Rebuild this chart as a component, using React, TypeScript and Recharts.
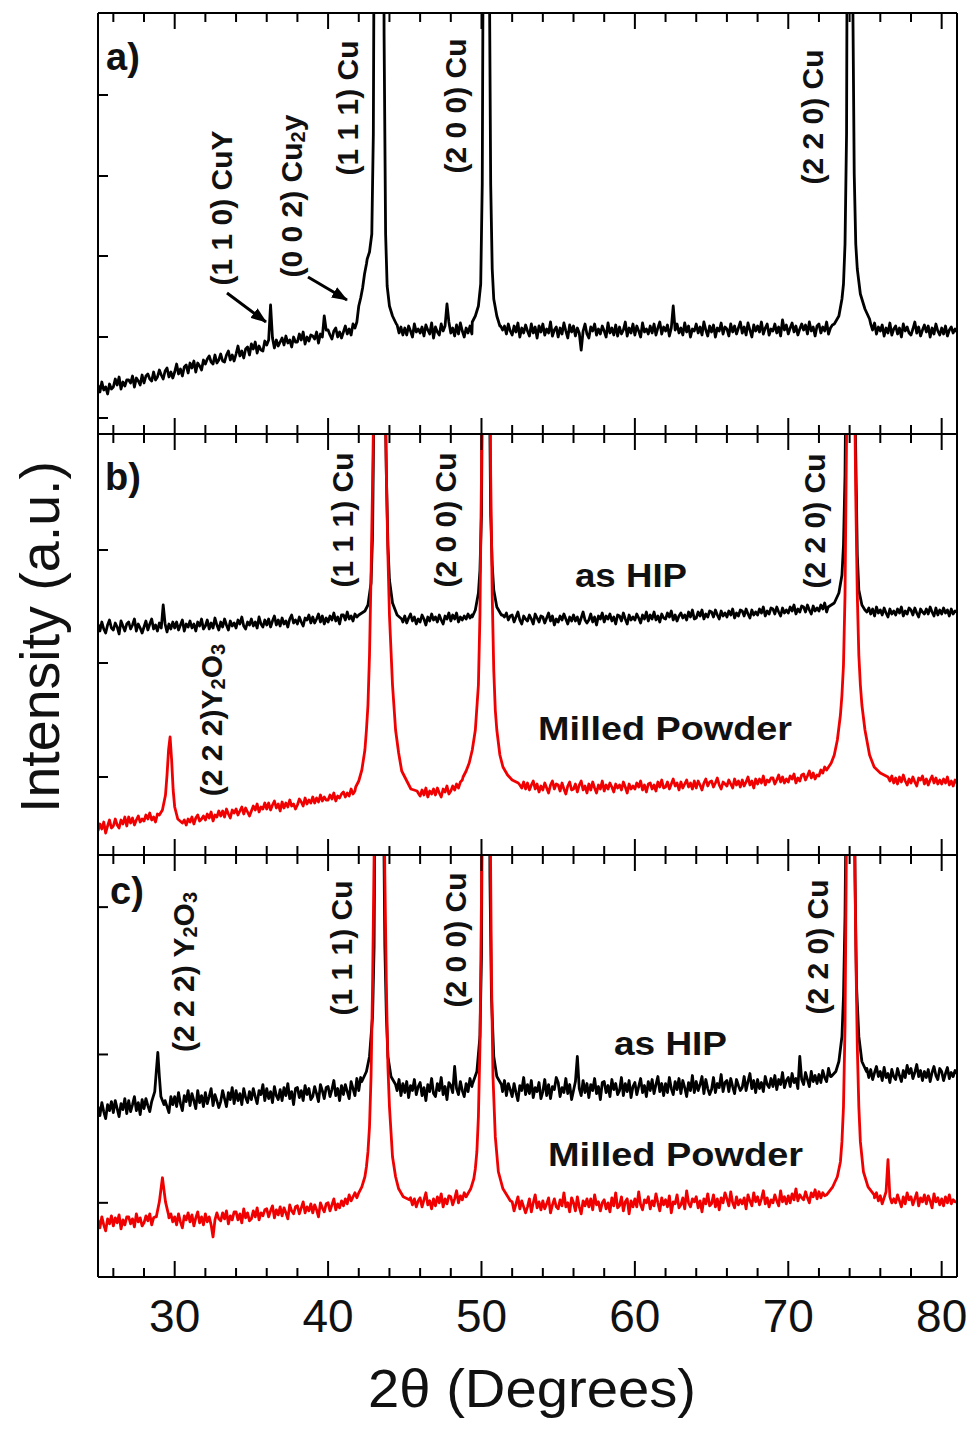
import React from 'react';
import { LineChart, Line, XAxis, YAxis } from 'recharts';

type Row = number[]; // [startDegree, 8 intensities at startDegree + k * 0.125]
type Pt = [number, number];

const FONT = 'Arial, "Liberation Sans", Helvetica, sans-serif';
const RED = '#f00000';

// ---------- axes ----------
const X_DOMAIN: [number, number] = [25, 81];
const xTicks = [26, 28, 30, 32, 34, 36, 38, 40, 42, 44, 46, 48, 50, 52, 54, 56, 58, 60, 62, 64, 66, 68, 70, 72, 74, 76, 78, 80];
const xTickLabels = [30, 40, 50, 60, 70, 80];
const Y_DOMAIN: [number, number] = [0, 421];
const yTicksA = [16, 97, 178, 258, 339];
const yTicksB = [78, 192, 305];
const yTicksC = [74, 222, 369];

// ---------- panel a) sample ----------
const sampleA: Row[] = [
  [25, 49, 42, 52, 44, 47, 40, 50, 45], [26, 47, 55, 49, 57, 45, 52, 48, 54],
  [27, 54, 51, 58, 47, 56, 53, 49, 59], [28, 51, 58, 60, 55, 53, 62, 54, 57],
  [29, 64, 59, 55, 63, 66, 57, 62, 56], [30, 62, 70, 60, 65, 58, 67, 69, 61],
  [31, 71, 66, 73, 62, 71, 68, 64, 74], [32, 70, 75, 78, 72, 70, 79, 71, 74],
  [33, 80, 73, 72, 79, 83, 74, 79, 73], [34, 80, 88, 78, 83, 76, 85, 87, 79],
  [35, 90, 85, 92, 81, 88, 84, 83, 93], [36, 89, 94, 129, 96, 86, 94, 88, 92],
  [37, 96, 89, 98, 91, 94, 87, 97, 92], [38, 92, 100, 94, 102, 90, 97, 93, 99],
  [39, 98, 95, 102, 91, 100, 97, 118, 104], [40, 104, 99, 95, 103, 106, 97, 102, 96],
  [41, 102, 108, 100, 105, 99, 110, 106, 112], [42, 128, 136, 146, 160, 170, 175, 180, 185],
  [43, 300, 900, 2000, 2000, 1500, 900, 400, 200], [44, 125, 122, 118, 114, 109, 101, 107, 99],
  [45, 106, 99, 108, 103, 97, 110, 102, 105], [46, 101, 107, 98, 109, 104, 100, 111, 96],
  [47, 107, 102, 99, 110, 103, 108, 130, 112], [48, 101, 106, 98, 109, 100, 111, 103, 97],
  [49, 106, 101, 108, 100, 105, 109, 112, 118], [50, 200, 2500, 2500, 1200, 400, 200, 140, 125],
  [51, 116, 112, 108, 104, 108, 100, 110, 103], [52, 99, 108, 102, 111, 97, 106, 101, 109],
  [53, 103, 98, 110, 101, 107, 96, 108, 102], [54, 110, 99, 105, 101, 112, 98, 104, 107],
  [55, 97, 106, 100, 111, 103, 96, 109, 102], [56, 108, 98, 106, 101, 84, 103, 110, 100],
  [57, 96, 107, 103, 110, 99, 105, 100, 108], [58, 103, 97, 111, 101, 106, 99, 109, 98],
  [59, 107, 100, 104, 112, 98, 106, 101, 110], [60, 99, 108, 103, 97, 111, 102, 105, 100],
  [61, 108, 101, 110, 99, 106, 112, 100, 107], [62, 103, 109, 98, 106, 128, 104, 110, 101],
  [63, 106, 99, 111, 102, 108, 97, 105, 103], [64, 110, 101, 107, 99, 112, 104, 98, 108],
  [65, 102, 109, 97, 106, 103, 111, 100, 107], [66, 105, 98, 110, 102, 108, 100, 106, 112],
  [67, 101, 107, 99, 111, 104, 97, 109, 103], [68, 108, 102, 112, 100, 106, 110, 99, 105],
  [69, 103, 110, 101, 107, 98, 114, 104, 109], [70, 100, 106, 111, 102, 108, 99, 105, 110],
  [71, 104, 109, 100, 112, 103, 107, 98, 108], [72, 110, 101, 107, 103, 112, 100, 106, 109],
  [73, 106, 110, 118, 128, 135, 150, 190, 300], [74, 2000, 1000, 450, 260, 190, 165, 150, 140],
  [75, 125, 120, 116, 110, 104, 111, 100, 107], [76, 103, 109, 98, 106, 101, 111, 99, 105],
  [77, 108, 100, 106, 97, 110, 103, 107, 101], [78, 99, 105, 112, 101, 107, 98, 104, 109],
  [79, 102, 108, 97, 106, 100, 110, 103, 99], [80, 106, 100, 108, 98, 104, 107, 101, 105],
  [81, 102],
];
const sampleA111: Pt[] = [[42.55, 175], [42.7, 182], [42.85, 200], [42.95, 300], [43.0, 500], [43.1, 1200], [43.3, 2000], [43.45, 1500], [43.55, 900], [43.65, 400], [43.75, 200], [43.85, 148], [44.0, 128], [44.2, 118], [44.45, 110]];
const sampleA200: Pt[] = [[49.4, 112], [49.6, 118], [49.8, 128], [49.95, 150], [50.05, 250], [50.1, 450], [50.2, 1500], [50.3, 2500], [50.4, 1200], [50.5, 500], [50.6, 250], [50.7, 165], [50.8, 135], [51.0, 118], [51.2, 108]];
const sampleA220: Pt[] = [[73.0, 110], [73.3, 118], [73.5, 135], [73.6, 150], [73.7, 190], [73.8, 300], [73.9, 800], [74.0, 2000], [74.1, 1000], [74.2, 450], [74.3, 260], [74.4, 190], [74.5, 165], [74.7, 140], [75.0, 125], [75.3, 115]];

// ---------- panel b) as HIP ----------
const hipB: Row[] = [
  [25, 231, 224, 233, 226, 222, 230, 235, 227], [26, 225, 232, 228, 221, 234, 229, 224, 231],
  [27, 233, 226, 230, 236, 224, 231, 227, 222], [28, 228, 234, 225, 231, 236, 226, 230, 224],
  [29, 232, 227, 250, 231, 223, 231, 226, 233], [30, 227, 233, 225, 230, 235, 224, 231, 228],
  [31, 234, 227, 231, 224, 233, 229, 236, 226], [32, 229, 235, 226, 232, 227, 237, 230, 225],
  [33, 233, 228, 236, 230, 225, 234, 229, 232], [34, 227, 235, 231, 238, 229, 226, 233, 230],
  [35, 236, 229, 233, 227, 238, 231, 228, 235], [36, 230, 236, 228, 234, 239, 230, 235, 229],
  [37, 237, 231, 234, 228, 236, 240, 232, 235], [38, 231, 238, 233, 229, 237, 235, 240, 232],
  [39, 238, 232, 236, 241, 233, 239, 231, 237], [40, 233, 239, 235, 242, 234, 238, 231, 240],
  [41, 240, 235, 243, 236, 239, 234, 241, 238], [42, 240, 242, 244, 246, 250, 260, 272, 320],
  [43, 470, 900, 2000, 2000, 1200, 700, 400, 300], [44, 275, 260, 252, 246, 240, 238, 236, 233],
  [45, 239, 232, 237, 241, 234, 238, 231, 236], [46, 233, 240, 236, 230, 238, 234, 241, 235],
  [47, 238, 233, 240, 235, 231, 239, 236, 242], [48, 234, 240, 236, 242, 233, 238, 235, 239],
  [49, 236, 241, 237, 240, 245, 250, 262, 285], [50, 340, 600, 2000, 1000, 500, 340, 290, 265],
  [51, 248, 246, 244, 240, 238, 242, 235, 239], [52, 240, 233, 238, 243, 235, 231, 239, 236],
  [53, 234, 240, 236, 231, 241, 237, 233, 239], [54, 238, 232, 237, 242, 234, 239, 230, 236],
  [55, 233, 239, 235, 241, 236, 231, 238, 234], [56, 240, 234, 238, 231, 237, 243, 235, 232],
  [57, 235, 241, 233, 238, 230, 239, 236, 242], [58, 233, 239, 236, 241, 234, 238, 231, 240],
  [59, 239, 234, 242, 236, 231, 240, 235, 238], [60, 235, 241, 237, 232, 240, 236, 243, 234],
  [61, 240, 236, 243, 235, 239, 233, 241, 237], [62, 236, 242, 238, 244, 235, 240, 234, 239],
  [63, 242, 237, 240, 235, 243, 238, 245, 236], [64, 237, 243, 239, 245, 236, 241, 238, 244],
  [65, 243, 238, 245, 240, 236, 244, 239, 242], [66, 238, 244, 240, 246, 237, 242, 239, 245],
  [67, 244, 239, 246, 241, 237, 245, 240, 243], [68, 240, 246, 242, 248, 239, 244, 241, 247],
  [69, 246, 241, 248, 243, 239, 247, 242, 245], [70, 242, 248, 244, 250, 241, 246, 243, 249],
  [71, 248, 243, 250, 245, 241, 249, 244, 247], [72, 244, 250, 246, 252, 243, 248, 250, 252],
  [73, 252, 258, 262, 270, 280, 310, 380, 550], [74, 2000, 1800, 900, 500, 300, 265, 255, 250],
  [75, 245, 243, 247, 241, 246, 239, 248, 242], [76, 245, 240, 247, 242, 238, 246, 241, 244],
  [77, 240, 246, 242, 248, 239, 244, 241, 247], [78, 245, 240, 247, 242, 238, 246, 243, 241],
  [79, 246, 241, 248, 243, 239, 247, 240, 245], [80, 241, 247, 242, 245, 239, 246, 241, 244],
  [81, 243],
];
const hipB111: Pt[] = [[42.0, 240], [42.4, 244], [42.6, 250], [42.8, 272], [42.9, 320], [43.0, 470], [43.1, 900], [43.3, 2000], [43.5, 1200], [43.6, 700], [43.7, 480], [43.8, 380], [43.9, 310], [44.0, 275], [44.2, 252], [44.5, 240], [44.8, 236]];
const hipB200: Pt[] = [[49.4, 238], [49.6, 245], [49.8, 262], [49.9, 285], [50.0, 340], [50.1, 600], [50.2, 1500], [50.3, 2000], [50.4, 1000], [50.5, 500], [50.6, 340], [50.7, 290], [50.8, 265], [51.0, 248], [51.3, 240]];
const hipB220: Pt[] = [[72.6, 248], [73.0, 252], [73.3, 262], [73.5, 280], [73.6, 310], [73.7, 380], [73.8, 550], [73.9, 1000], [74.0, 2000], [74.1, 1800], [74.2, 900], [74.3, 500], [74.4, 400], [74.5, 300], [74.6, 265], [74.8, 250], [75.0, 245]];

// ---------- panel b) milled powder ----------
const milledB: Row[] = [
  [25, 24, 31, 26, 33, 22, 29, 35, 27], [26, 29, 36, 30, 27, 35, 31, 38, 29],
  [27, 38, 32, 37, 30, 35, 39, 33, 36], [28, 34, 40, 36, 42, 35, 38, 33, 41],
  [29, 40, 42, 45, 55, 70, 95, 118, 105], [30, 48, 40, 36, 33, 32, 35, 30, 36],
  [31, 33, 38, 31, 37, 40, 34, 36, 39], [32, 35, 41, 37, 43, 34, 40, 38, 44],
  [33, 39, 44, 38, 46, 41, 37, 45, 42], [34, 46, 40, 44, 48, 41, 47, 43, 39],
  [35, 44, 49, 45, 51, 43, 48, 46, 52], [36, 46, 52, 45, 50, 54, 47, 51, 44],
  [37, 53, 47, 52, 48, 55, 49, 51, 46], [38, 50, 56, 53, 49, 57, 51, 55, 52],
  [39, 58, 52, 57, 53, 60, 54, 58, 55], [40, 55, 60, 56, 62, 54, 59, 57, 61],
  [41, 63, 58, 62, 59, 66, 61, 64, 68], [42, 74, 80, 85, 105, 125, 150, 200, 280],
  [43, 480, 800, 1000, 1500, 900, 650, 380, 300], [44, 240, 200, 170, 140, 125, 110, 100, 90],
  [45, 75, 72, 70, 68, 66, 65, 64, 62], [46, 59, 65, 60, 67, 58, 64, 61, 66],
  [47, 60, 67, 62, 58, 66, 63, 69, 61], [48, 64, 69, 65, 71, 67, 73, 75, 78],
  [49, 84, 88, 92, 105, 125, 170, 240, 380], [50, 380, 700, 1500, 1000, 600, 380, 260, 185],
  [51, 125, 110, 100, 94, 88, 84, 80, 77], [52, 75, 74, 73, 72, 70, 67, 73, 66],
  [53, 72, 65, 70, 74, 66, 71, 63, 69], [54, 65, 72, 67, 62, 70, 74, 66, 71],
  [55, 70, 64, 72, 66, 61, 69, 73, 65], [56, 66, 71, 63, 70, 74, 65, 69, 62],
  [57, 71, 65, 73, 67, 62, 70, 66, 74], [58, 64, 70, 66, 72, 68, 63, 71, 67],
  [59, 70, 65, 73, 68, 62, 71, 66, 69], [60, 66, 72, 68, 74, 65, 70, 63, 71],
  [61, 72, 66, 70, 64, 73, 68, 75, 67], [62, 68, 73, 66, 71, 76, 69, 72, 65],
  [63, 73, 67, 71, 75, 68, 72, 66, 74], [64, 67, 74, 70, 65, 72, 76, 69, 73],
  [65, 74, 68, 72, 77, 70, 66, 73, 71], [66, 69, 75, 71, 67, 76, 70, 74, 68],
  [67, 75, 69, 73, 78, 70, 74, 67, 76], [68, 71, 76, 72, 79, 70, 75, 73, 77],
  [69, 77, 71, 75, 80, 73, 78, 72, 76], [70, 73, 79, 76, 81, 72, 77, 74, 80],
  [71, 81, 75, 79, 84, 77, 82, 76, 80], [72, 79, 85, 82, 88, 85, 90, 92, 95],
  [73, 100, 110, 115, 130, 140, 160, 260, 420], [74, 1500, 800, 500, 360, 260, 200, 170, 150],
  [75, 125, 115, 100, 95, 88, 86, 84, 82], [76, 82, 80, 79, 78, 78, 74, 79, 72],
  [77, 77, 71, 78, 73, 80, 74, 70, 76], [78, 72, 78, 73, 69, 77, 75, 79, 71],
  [79, 76, 70, 75, 79, 72, 77, 71, 75], [80, 71, 76, 72, 78, 70, 74, 69, 75],
  [81, 72],
];
const milledB222: Pt[] = [[29.0, 40], [29.2, 45], [29.4, 60], [29.5, 80], [29.6, 105], [29.7, 118], [29.8, 95], [29.9, 65], [30.0, 48], [30.2, 36], [30.5, 32]];
const milledB111: Pt[] = [[41.8, 68], [42.0, 74], [42.2, 85], [42.4, 105], [42.5, 125], [42.6, 150], [42.7, 200], [42.8, 280], [42.9, 370], [43.0, 480], [43.2, 1000], [43.35, 1500], [43.5, 900], [43.6, 650], [43.7, 480], [43.8, 380], [43.9, 300], [44.0, 240], [44.2, 170], [44.4, 125], [44.6, 102], [44.8, 84], [45.0, 78], [45.4, 66], [45.8, 64]];
const milledB200: Pt[] = [[48.8, 78], [49.0, 84], [49.2, 92], [49.4, 105], [49.6, 125], [49.8, 170], [49.9, 240], [50.0, 380], [50.1, 700], [50.25, 1500], [50.4, 1000], [50.5, 600], [50.6, 380], [50.7, 260], [50.8, 185], [50.9, 145], [51.0, 125], [51.2, 100], [51.4, 88], [51.7, 80], [52.0, 75], [52.4, 72]];
const milledB220: Pt[] = [[72.5, 85], [72.8, 92], [73.0, 100], [73.2, 115], [73.4, 140], [73.5, 160], [73.6, 190], [73.7, 260], [73.8, 420], [73.9, 800], [74.05, 1500], [74.2, 800], [74.3, 500], [74.4, 360], [74.5, 260], [74.6, 200], [74.7, 170], [74.8, 150], [75.0, 125], [75.3, 100], [75.6, 88], [76.0, 82], [76.5, 78]];

// ---------- panel c) as HIP ----------
const hipC: Row[] = [
  [25, 170, 161, 174, 165, 158, 172, 166, 175], [26, 164, 176, 168, 160, 173, 167, 178, 163],
  [27, 176, 165, 172, 180, 166, 174, 162, 177], [28, 168, 178, 171, 165, 177, 182, 170, 176],
  [29, 200, 190, 182, 176, 170, 164, 180, 172], [30, 180, 170, 184, 173, 166, 181, 175, 186],
  [31, 171, 183, 176, 168, 186, 174, 181, 170], [32, 184, 173, 180, 188, 171, 182, 176, 169],
  [33, 175, 186, 178, 170, 184, 177, 189, 173], [34, 186, 176, 183, 172, 188, 179, 174, 185],
  [35, 177, 188, 180, 173, 186, 182, 192, 176], [36, 188, 178, 185, 174, 190, 181, 177, 187],
  [37, 176, 189, 181, 193, 178, 185, 172, 188], [38, 189, 179, 186, 176, 191, 182, 188, 177],
  [39, 180, 190, 183, 175, 192, 186, 178, 189], [40, 190, 180, 187, 196, 181, 188, 176, 191],
  [41, 182, 192, 185, 178, 195, 188, 181, 198], [42, 186, 199, 195, 205, 205, 215, 220, 240],
  [43, 330, 600, 2500, 2500, 1200, 500, 330, 260], [44, 210, 200, 195, 192, 186, 197, 181, 193],
  [45, 184, 195, 179, 191, 186, 197, 182, 190], [46, 194, 181, 189, 176, 192, 185, 198, 183],
  [47, 180, 193, 186, 199, 182, 190, 177, 194], [48, 191, 184, 210, 188, 182, 195, 186, 180],
  [49, 193, 185, 198, 190, 195, 205, 215, 240], [50, 320, 700, 2500, 2500, 800, 400, 280, 220],
  [51, 200, 195, 192, 185, 196, 181, 193, 187], [52, 180, 193, 184, 176, 191, 186, 199, 182],
  [53, 192, 183, 196, 179, 189, 185, 194, 178], [54, 185, 197, 181, 192, 178, 190, 187, 199],
  [55, 194, 180, 189, 184, 198, 183, 192, 177], [56, 186, 195, 220, 188, 181, 196, 184, 193],
  [57, 179, 192, 186, 198, 183, 190, 177, 194], [58, 195, 184, 191, 180, 197, 187, 193, 182],
  [59, 186, 199, 181, 193, 185, 196, 179, 190], [60, 194, 182, 190, 198, 184, 191, 180, 195],
  [61, 186, 197, 183, 192, 200, 185, 193, 181], [62, 193, 184, 199, 188, 182, 195, 187, 198],
  [63, 183, 196, 189, 180, 194, 186, 201, 184], [64, 195, 186, 192, 200, 183, 197, 188, 182],
  [65, 187, 199, 184, 193, 189, 202, 185, 194], [66, 196, 185, 198, 190, 183, 197, 191, 186],
  [67, 189, 200, 186, 195, 203, 188, 196, 184], [68, 197, 188, 194, 185, 200, 192, 189, 198],
  [69, 190, 201, 187, 197, 192, 204, 189, 196], [70, 199, 190, 203, 194, 198, 188, 220, 197],
  [71, 192, 204, 197, 190, 205, 195, 201, 193], [72, 202, 194, 206, 199, 195, 208, 200, 205],
  [73, 205, 210, 215, 230, 240, 280, 440, 800], [74, 2500, 1200, 500, 290, 240, 225, 215, 210],
  [75, 205, 208, 199, 207, 197, 204, 210, 200], [76, 205, 196, 209, 199, 203, 194, 207, 200],
  [77, 197, 208, 201, 195, 206, 199, 211, 203], [78, 208, 198, 204, 212, 200, 206, 196, 205],
  [79, 199, 207, 195, 204, 210, 201, 197, 208], [80, 205, 196, 203, 209, 198, 204, 200, 206],
  [81, 203],
];
const hipC222: Pt[] = [[28.5, 175], [28.7, 185], [28.8, 205], [28.9, 224], [29.0, 200], [29.1, 180], [29.3, 172]];
const hipC111: Pt[] = [[42.2, 195], [42.5, 205], [42.7, 220], [42.9, 260], [43.0, 330], [43.1, 600], [43.3, 2500], [43.5, 1200], [43.6, 500], [43.7, 330], [43.8, 260], [43.9, 220], [44.1, 200], [44.4, 192]];
const hipC200: Pt[] = [[49.4, 192], [49.7, 205], [49.9, 240], [50.0, 320], [50.1, 700], [50.3, 2500], [50.45, 800], [50.55, 400], [50.65, 280], [50.8, 220], [51.0, 200], [51.3, 192]];
const hipC220: Pt[] = [[72.8, 200], [73.1, 205], [73.3, 215], [73.5, 240], [73.6, 280], [73.7, 360], [73.75, 440], [73.9, 1200], [74.05, 2500], [74.2, 1200], [74.3, 500], [74.35, 400], [74.45, 290], [74.6, 240], [74.8, 215], [75.1, 205]];

// ---------- panel c) milled powder ----------
const milledC: Row[] = [
  [25, 57, 49, 60, 52, 46, 58, 53, 61], [26, 51, 59, 54, 62, 48, 57, 52, 60],
  [27, 60, 53, 58, 50, 63, 55, 59, 51], [28, 54, 61, 56, 63, 52, 59, 60, 65],
  [29, 70, 80, 99, 90, 75, 59, 63, 55], [30, 60, 52, 63, 55, 49, 61, 57, 64],
  [31, 55, 62, 51, 59, 65, 54, 60, 52], [32, 63, 55, 60, 52, 40, 57, 64, 58],
  [33, 56, 64, 58, 66, 53, 61, 57, 65], [34, 65, 57, 63, 54, 68, 59, 64, 56],
  [35, 58, 66, 60, 69, 57, 64, 61, 67], [36, 68, 60, 66, 71, 59, 67, 62, 70],
  [37, 61, 69, 64, 58, 72, 66, 63, 70], [38, 71, 63, 69, 75, 64, 70, 66, 73],
  [39, 64, 72, 67, 60, 74, 69, 65, 73], [40, 74, 66, 72, 78, 67, 73, 69, 76],
  [41, 71, 78, 73, 82, 76, 80, 84, 79], [42, 84, 88, 90, 100, 110, 125, 150, 200],
  [43, 420, 650, 1000, 1500, 900, 560, 400, 290], [44, 170, 140, 120, 108, 100, 92, 88, 84],
  [45, 80, 78, 77, 79, 72, 78, 70, 76], [46, 79, 70, 77, 84, 72, 76, 68, 78],
  [47, 71, 80, 74, 83, 70, 78, 73, 81], [48, 80, 72, 78, 86, 74, 81, 77, 84],
  [49, 80, 85, 88, 95, 98, 125, 160, 230], [50, 380, 700, 1500, 1200, 900, 500, 300, 200],
  [51, 105, 100, 95, 90, 88, 85, 80, 76], [52, 75, 66, 73, 80, 68, 76, 70, 64],
  [53, 70, 78, 65, 74, 82, 69, 75, 67], [54, 76, 68, 73, 79, 64, 72, 78, 70],
  [55, 68, 77, 71, 84, 70, 74, 65, 79], [56, 74, 66, 80, 70, 63, 76, 71, 78],
  [57, 70, 78, 67, 82, 72, 75, 66, 74], [58, 77, 68, 74, 65, 79, 71, 84, 69],
  [59, 71, 80, 66, 75, 78, 63, 76, 70], [60, 78, 70, 85, 72, 67, 77, 74, 80],
  [61, 68, 76, 71, 83, 74, 66, 79, 72], [62, 77, 70, 81, 64, 75, 73, 82, 69],
  [63, 72, 79, 68, 86, 74, 70, 78, 75], [64, 80, 69, 76, 65, 78, 73, 83, 71],
  [65, 73, 82, 70, 78, 67, 79, 74, 84], [66, 78, 71, 85, 74, 69, 80, 72, 77],
  [67, 73, 79, 68, 82, 76, 71, 84, 75], [68, 80, 72, 78, 86, 73, 79, 70, 77],
  [69, 74, 82, 76, 71, 86, 75, 80, 73], [70, 81, 74, 83, 77, 88, 76, 82, 79],
  [71, 77, 85, 79, 74, 84, 80, 87, 78], [72, 85, 79, 84, 81, 82, 90, 86, 88],
  [73, 100, 108, 115, 135, 170, 250, 450, 1100], [74, 1500, 900, 480, 330, 230, 170, 135, 110],
  [75, 105, 100, 95, 90, 86, 79, 84, 76], [76, 81, 73, 79, 85, 117, 80, 74, 78],
  [77, 74, 82, 76, 70, 80, 73, 84, 77], [78, 80, 72, 78, 84, 71, 79, 75, 82],
  [79, 73, 81, 76, 69, 83, 75, 79, 72], [80, 78, 71, 80, 74, 82, 73, 77, 75],
  [81, 75],
];
const milledC222: Pt[] = [[28.8, 60], [29.0, 75], [29.2, 99], [29.4, 75], [29.6, 62]];
const milledC111: Pt[] = [[42.0, 84], [42.2, 90], [42.4, 100], [42.5, 110], [42.6, 125], [42.7, 150], [42.8, 200], [42.9, 290], [43.0, 420], [43.1, 650], [43.3, 1500], [43.5, 900], [43.6, 560], [43.7, 400], [43.8, 290], [43.9, 210], [44.0, 170], [44.2, 120], [44.4, 100], [44.6, 88], [44.9, 80], [45.3, 77]];
const milledC200: Pt[] = [[49.0, 80], [49.3, 88], [49.5, 98], [49.6, 108], [49.7, 125], [49.8, 160], [49.9, 230], [50.0, 380], [50.1, 700], [50.3, 1500], [50.45, 900], [50.55, 500], [50.65, 300], [50.75, 200], [50.9, 140], [51.1, 105], [51.4, 88], [51.8, 78]];
const milledC220: Pt[] = [[72.5, 82], [72.9, 90], [73.2, 100], [73.4, 115], [73.5, 135], [73.6, 170], [73.7, 250], [73.8, 450], [73.95, 1100], [74.05, 1500], [74.2, 900], [74.3, 480], [74.4, 330], [74.5, 230], [74.6, 170], [74.7, 135], [74.9, 105], [75.2, 90], [75.6, 82]];

// ---------- series assembly (grid rows + finely read peak profiles) ----------
const GRID_STEP = 0.125;
function buildSeries(rows: Row[], peaks: Pt[][]) {
  const ranges = peaks.map((p) => [p[0][0], p[p.length - 1][0]]);
  const pts: Pt[] = [];
  rows.forEach((r) => {
    for (let k = 1; k < r.length; k++) pts.push([r[0] + (k - 1) * GRID_STEP, r[k]]);
  });
  const kept = pts.filter(([x]) => !ranges.some(([a, b]) => x >= a - 1e-9 && x <= b + 1e-9));
  const all = kept.concat(...peaks).sort((a, b) => a[0] - b[0]);
  return all.map(([x, y]) => ({ x, y }));
}

const seriesA = [{ data: buildSeries(sampleA, [sampleA111, sampleA200, sampleA220]), color: '#000' }];
const seriesB = [
  { data: buildSeries(hipB, [hipB111, hipB200, hipB220]), color: '#000' },
  { data: buildSeries(milledB, [milledB222, milledB111, milledB200, milledB220]), color: RED },
];
const seriesC = [
  { data: buildSeries(hipC, [hipC222, hipC111, hipC200, hipC220]), color: '#000' },
  { data: buildSeries(milledC, [milledC222, milledC111, milledC200, milledC220]), color: RED },
];

// ---------- ticks ----------
const MAJOR = 16;
const MINOR = 9;

function BottomTick(props: any) {
  const { x, y, payload, showLabels } = props;
  const v = payload.value;
  const major = v % 10 === 0;
  return (
    <g>
      <line x1={x} y1={y} x2={x} y2={y - (major ? MAJOR : MINOR)} stroke="#000" strokeWidth={2} />
      {showLabels && xTickLabels.includes(v) ? (
        <text x={x} y={y + 55} textAnchor="middle" fontFamily={FONT} fontSize={46} fill="#111">
          {v}
        </text>
      ) : null}
    </g>
  );
}

function TopTick(props: any) {
  const { x, y, payload } = props;
  const major = payload.value % 10 === 0;
  return <line x1={x} y1={y} x2={x} y2={y + (major ? MAJOR : MINOR)} stroke="#000" strokeWidth={2} />;
}

function LeftTick(props: any) {
  const { x, y } = props;
  return <line x1={x} y1={y} x2={x + 10} y2={y} stroke="#000" strokeWidth={2} />;
}

// ---------- panel ----------
const CHART_W = 970;
const PLOT_LEFT = 98;
const PLOT_RIGHT = 957;

function Panel(props: { top: number; height: number; yTicks: number[]; series: { data: any[]; color: string }[]; showLabels: boolean }) {
  const { top, height, yTicks, series, showLabels } = props;
  const mTop = 10;
  const mBottom = showLabels ? 80 : 10;
  const axisStroke = { stroke: '#000', strokeWidth: 2 };
  return (
    <div style={{ position: 'absolute', left: 0, top: top - mTop - 1 }}>
      <LineChart
        width={CHART_W}
        height={height + mTop + mBottom + 2}
        margin={{ top: mTop, right: CHART_W - PLOT_RIGHT - 1, bottom: mBottom, left: PLOT_LEFT - 1 }}
      >
        <XAxis
          xAxisId="b"
          type="number"
          dataKey="x"
          domain={X_DOMAIN}
          ticks={xTicks}
          interval={0}
          allowDataOverflow
          height={1}
          tickSize={0}
          tickMargin={0}
          tickLine={false}
          axisLine={axisStroke}
          tick={(p: any) => <BottomTick {...p} showLabels={showLabels} />}
        />
        <XAxis
          xAxisId="t"
          orientation="top"
          type="number"
          dataKey="x"
          domain={X_DOMAIN}
          ticks={xTicks}
          interval={0}
          allowDataOverflow
          height={1}
          tickSize={0}
          tickMargin={0}
          tickLine={false}
          axisLine={axisStroke}
          tick={(p: any) => <TopTick {...p} />}
        />
        <YAxis
          yAxisId="l"
          type="number"
          domain={Y_DOMAIN}
          ticks={yTicks}
          interval={0}
          allowDataOverflow
          width={1}
          tickSize={0}
          tickMargin={0}
          tickLine={false}
          axisLine={axisStroke}
          tick={(p: any) => <LeftTick {...p} />}
        />
        <YAxis
          yAxisId="r"
          orientation="right"
          type="number"
          domain={Y_DOMAIN}
          ticks={yTicks}
          allowDataOverflow
          width={1}
          tickSize={0}
          tickLine={false}
          axisLine={axisStroke}
          tick={() => <g />}
        />
        {series.map((s, i) => (
          <Line
            key={i}
            xAxisId="b"
            yAxisId="l"
            data={s.data}
            dataKey="y"
            type="linear"
            stroke={s.color}
            strokeWidth={2.8}
            strokeLinejoin="round"
            dot={false}
            activeDot={false}
            isAnimationActive={false}
          />
        ))}
      </LineChart>
    </div>
  );
}

// ---------- annotations ----------
function RotLabel(props: { x: number; y: number; children: React.ReactNode }) {
  const { x, y, children } = props;
  return (
    <text
      x={x}
      y={y}
      transform={`rotate(-90 ${x} ${y})`}
      textAnchor="middle"
      dominantBaseline="central"
      fontFamily={FONT}
      fontWeight="bold"
      fontSize={30}
      fill="#111"
    >
      {children}
    </text>
  );
}

const sub = { fontSize: 20 };

export default function App() {
  return (
    <div style={{ position: 'absolute', left: 0, top: 0, width: 970, height: 1433, background: '#fff' }}>
      <Panel top={13} height={421} yTicks={yTicksA} series={seriesA} showLabels={false} />
      <Panel top={434} height={421} yTicks={yTicksB} series={seriesB} showLabels={false} />
      <Panel top={855} height={422} yTicks={yTicksC} series={seriesC} showLabels={true} />

      <svg width={970} height={1433} style={{ position: 'absolute', left: 0, top: 0, pointerEvents: 'none' }}>
        <defs>
          <marker id="arrowHead" markerUnits="userSpaceOnUse" markerWidth={16} markerHeight={12} refX={15} refY={6} orient="auto">
            <path d="M0,0 L16,6 L0,12 z" fill="#000" />
          </marker>
        </defs>

        {/* axis titles */}
        <text x={40} y={637} transform="rotate(-90 40 637)" textAnchor="middle" dominantBaseline="central" fontFamily={FONT} fontSize={55} fill="#111" textLength={352} lengthAdjust="spacingAndGlyphs">
          Intensity (a.u.)
        </text>
        <text x={532} y={1407} textAnchor="middle" fontFamily={FONT} fontSize={53} fill="#111" textLength={328} lengthAdjust="spacingAndGlyphs">
          2θ (Degrees)
        </text>

        {/* panel letters */}
        <text x={106} y={70} fontFamily={FONT} fontWeight="bold" fontSize={38} fill="#111">a)</text>
        <text x={105} y={490} fontFamily={FONT} fontWeight="bold" fontSize={38} fill="#111">b)</text>
        <text x={110} y={904} fontFamily={FONT} fontWeight="bold" fontSize={38} fill="#111">c)</text>

        {/* panel a labels */}
        <RotLabel x={221} y={208}>(1 1 0) CuY</RotLabel>
        <RotLabel x={291} y={196}>
          (0 0 2) Cu<tspan dy={7} {...sub}>2</tspan>
          <tspan dy={-7}>y</tspan>
        </RotLabel>
        <RotLabel x={347} y={108}>(1 1 1) Cu</RotLabel>
        <RotLabel x={455} y={106}>(2 0 0) Cu</RotLabel>
        <RotLabel x={812} y={117}>(2 2 0) Cu</RotLabel>
        <line x1={227} y1={293} x2={266} y2={322} stroke="#000" strokeWidth={3} markerEnd="url(#arrowHead)" />
        <line x1={308} y1={277} x2={347} y2={300} stroke="#000" strokeWidth={3} markerEnd="url(#arrowHead)" />

        {/* panel b labels */}
        <RotLabel x={342} y={520}>(1 1 1) Cu</RotLabel>
        <RotLabel x={445} y={520}>(2 0 0) Cu</RotLabel>
        <RotLabel x={814} y={521}>(2 2 0) Cu</RotLabel>
        <RotLabel x={211} y={720}>
          (2 2 2)Y<tspan dy={7} {...sub}>2</tspan>
          <tspan dy={-7}>O</tspan>
          <tspan dy={7} {...sub}>3</tspan>
        </RotLabel>
        <text x={575} y={587} fontFamily={FONT} fontWeight="bold" fontSize={34} fill="#111" textLength={112} lengthAdjust="spacingAndGlyphs">as HIP</text>
        <text x={538} y={740} fontFamily={FONT} fontWeight="bold" fontSize={34} fill="#111" textLength={254} lengthAdjust="spacingAndGlyphs">Milled Powder</text>

        {/* panel c labels */}
        <RotLabel x={183} y={972}>
          (2 2 2) Y<tspan dy={7} {...sub}>2</tspan>
          <tspan dy={-7}>O</tspan>
          <tspan dy={7} {...sub}>3</tspan>
        </RotLabel>
        <RotLabel x={341} y={948}>(1 1 1) Cu</RotLabel>
        <RotLabel x={455} y={940}>(2 0 0) Cu</RotLabel>
        <RotLabel x={817} y={947}>(2 2 0) Cu</RotLabel>
        <text x={614} y={1055} fontFamily={FONT} fontWeight="bold" fontSize={34} fill="#111" textLength={113} lengthAdjust="spacingAndGlyphs">as HIP</text>
        <text x={548} y={1166} fontFamily={FONT} fontWeight="bold" fontSize={34} fill="#111" textLength={255} lengthAdjust="spacingAndGlyphs">Milled Powder</text>
      </svg>
    </div>
  );
}
